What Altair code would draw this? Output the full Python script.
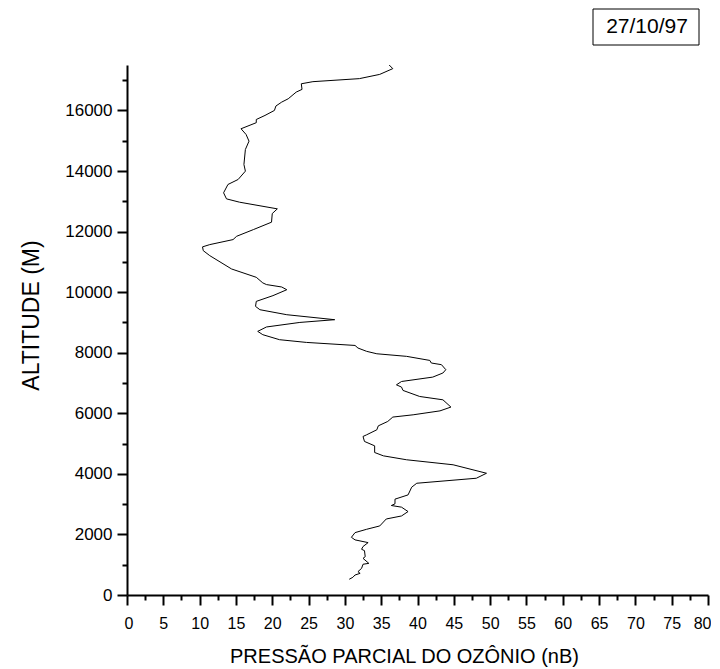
import altair as alt
import pandas as pd

# Ozone partial pressure profile (nB) vs altitude (m), listed from top of sounding downward
ozone = [36.1, 36.6, 34.8, 32.0, 25.6, 24.0, 24.1, 23.3, 22.2, 21.3, 20.5, 20.3, 19.0, 17.8, 17.8,
         15.7, 16.4, 16.8, 16.3, 16.1, 16.3, 15.3, 13.9, 13.3, 13.7, 15.5, 20.7, 20.0, 19.9, 17.4,
         15.1, 14.6, 11.4, 10.4, 10.5, 11.4, 14.4, 17.8, 18.7, 19.2, 21.3, 22.0, 20.1, 17.8, 17.7,
         18.3, 22.0, 28.6, 23.8, 19.2, 18.0, 18.7, 21.0, 24.7, 31.4, 31.8, 33.0, 34.4, 38.5, 41.7,
         41.9, 43.3, 43.9, 43.5, 42.1, 37.8, 37.1, 37.8, 38.0, 40.3, 43.5, 44.6, 43.1, 39.4, 36.6,
         35.9, 34.6, 34.4, 33.0, 32.5, 32.7, 34.1, 34.1, 35.3, 38.5, 44.9, 49.5, 48.1, 39.9, 39.2,
         38.7, 36.9, 36.9, 36.4, 37.8, 38.7, 37.8, 35.7, 34.8, 33.0, 31.4, 30.9, 31.4, 33.2, 32.5,
         32.3, 32.7, 32.8, 32.5, 33.3, 32.5, 32.3, 31.8, 32.1, 31.4, 31.1, 30.6]
altitude = [17500, 17380, 17190, 17050, 16950, 16880, 16695, 16605, 16385, 16275, 16145, 16000, 15835, 15700, 15595,
            15395, 15205, 14985, 14710, 14215, 13995, 13720, 13555, 13280, 13080, 12970, 12750, 12595, 12310, 12065,
            11845, 11735, 11570, 11495, 11370, 11205, 10765, 10490, 10305, 10250, 10170, 10080, 9885, 9695, 9530,
            9420, 9255, 9090, 9000, 8850, 8705, 8595, 8430, 8340, 8240, 8155, 8045, 7965, 7880, 7745,
            7660, 7605, 7440, 7330, 7195, 7050, 6940, 6865, 6755, 6555, 6445, 6205, 6080, 5950, 5875,
            5730, 5585, 5455, 5290, 5235, 5070, 4925, 4705, 4595, 4465, 4300, 4020, 3855, 3690, 3560,
            3305, 3165, 3010, 2955, 2900, 2755, 2610, 2510, 2280, 2170, 2060, 1905, 1820, 1730, 1600,
            1510, 1465, 1265, 1210, 1045, 1015, 880, 770, 715, 660, 585, 520]

x_major = [0, 5, 10, 15, 20, 25, 30, 35, 40, 45, 50, 55, 60, 65, 70, 75, 80]
x_minor = [2.5, 7.5, 12.5, 17.5, 22.5, 27.5, 32.5, 37.5, 42.5, 47.5, 52.5, 57.5, 62.5, 67.5, 72.5, 77.5]
y_major = [0, 2000, 4000, 6000, 8000, 10000, 12000, 14000, 16000]
y_minor = [1000, 3000, 5000, 7000, 9000, 11000, 13000, 15000, 17000]

x_title = "PRESSÃO PARCIAL DO OZÔNIO (nB)"
y_title = "ALTITUDE (M)"
date_label = "27/10/97"

FONT = "Liberation Sans"

df = pd.DataFrame({"ozone": ozone, "alt": altitude, "i": list(range(len(ozone)))})

x_scale = alt.Scale(domain=[0, 80], nice=False, zero=False)
y_scale = alt.Scale(domain=[0, 17500], nice=False, zero=False)

line = alt.Chart(df).mark_line(color="black", strokeWidth=1).encode(
    x=alt.X("ozone:Q", scale=x_scale,
            axis=alt.Axis(orient="bottom", values=x_major, tickSize=10, labelFontSize=16,
                          labelPadding=10, labelFlush=True, labelFlushOffset=3,
                          title=x_title, titleFontSize=20,
                          titleX=277, titleY=67, titleBaseline="alphabetic", titleAlign="center",
                          labelOverlap=False)),
    y=alt.Y("alt:Q", scale=y_scale,
            axis=alt.Axis(orient="left", values=y_major, tickSize=10, labelFontSize=17,
                          labelPadding=5, labelFlush=False, title=y_title, titleFontSize=23,
                          titleX=-89, titleY=250, titleBaseline="alphabetic", titleAlign="center",
                          titleAngle=270, labelOverlap=False, format="d")),
    order="i:Q",
)

minor = alt.Chart(df).mark_point(opacity=0).encode(
    x=alt.X("ozone:Q", scale=x_scale,
            axis=alt.Axis(orient="bottom", values=x_minor, tickSize=5, labels=False,
                          domain=False, title=None)),
    y=alt.Y("alt:Q", scale=y_scale,
            axis=alt.Axis(orient="left", values=y_minor, tickSize=5, labels=False,
                          domain=False, title=None)),
)

box_df = pd.DataFrame({"t": [date_label]})
box = alt.Chart(box_df).mark_rect(fill="white", stroke="black", strokeWidth=1).encode(
    x=alt.value(466), x2=alt.value(572), y=alt.value(-56), y2=alt.value(-20)
)
label = alt.Chart(box_df).mark_text(font=FONT, fontSize=21, color="black",
                                    align="center", baseline="alphabetic").encode(
    x=alt.value(520), y=alt.value(-32), text="t:N"
)

chart = alt.layer(line, minor, box, label).resolve_axis(
    x="independent", y="independent"
).properties(
    width=581, height=530,
    autosize=alt.AutoSizeParams(type="none"),
    padding={"left": 119, "top": 57, "right": 3, "bottom": 72},
).configure_view(strokeWidth=0).configure_axis(
    grid=False, labelFont=FONT, titleFont=FONT, titleFontWeight="normal",
    labelColor="black", titleColor="black", domainColor="black", tickColor="black",
    domainWidth=2, tickWidth=2,
)

chart.save("out.html", embed_options={"renderer": "svg", "actions": False})
